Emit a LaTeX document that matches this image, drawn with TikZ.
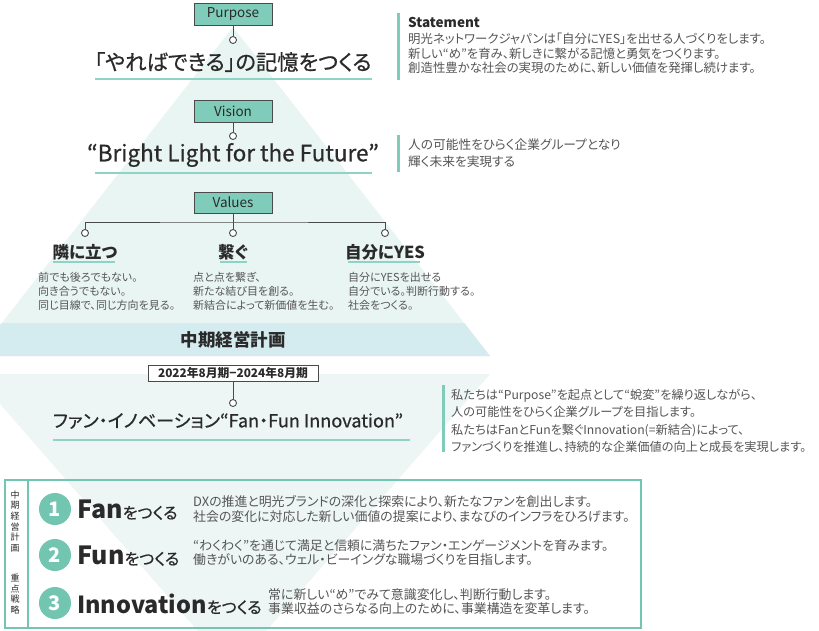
\documentclass[tikz,border=0pt]{standalone}
\usepackage{fontspec}
\setmainfont{Noto Sans CJK JP}[RawFeature=+palt]
\newfontfamily\medfont{Noto Sans CJK JP}[RawFeature=+palt, FakeBold=0.6]
\usetikzlibrary{calc}
\definecolor{teal1}{HTML}{80CCBA}
\definecolor{ulc}{HTML}{8ED3C3}
\definecolor{mint}{HTML}{E9F5F2}
\definecolor{bandc}{HTML}{D4EBEF}
\definecolor{mint2}{HTML}{EDF6F4}
\definecolor{txt}{HTML}{555555}
\definecolor{dark}{HTML}{2A2A2A}
\definecolor{bord}{HTML}{4A4A4A}
\definecolor{numc}{HTML}{72C6B1}
\tikzset{
  lbl/.style={draw=bord, line width=1pt, fill=teal1, minimum width=78, minimum height=22, inner sep=0, font=\fontsize{13.5}{13.5}\selectfont, text=dark},
  datebox/.style={draw=bord, line width=0.9pt, fill=white, minimum width=170, minimum height=16, inner sep=0, font=\bfseries\fontsize{11.8}{11.8}\selectfont, text=dark},
  dot/.style={circle, draw=bord, fill=white, line width=0.9pt, minimum size=7, inner sep=0},
  conn/.style={draw=bord, line width=0.9pt},
  ul/.style={draw=ulc, line width=2pt},
  bar/.style={draw=teal1, line width=3pt},
  title/.style={text=dark, inner sep=0},
  desc/.style={anchor=west, align=left, text=txt, inner sep=0},
  vlbl/.style={text=dark, inner sep=0, font=\bfseries\fontsize{16.5}{16.5}\selectfont},
  num/.style={circle, fill=numc, minimum size=32, inner sep=0, text=white, font=\bfseries\fontsize{20}{20}\selectfont},
  vtxt/.style={align=center, text=dark, inner sep=0, font=\fontsize{9}{10.7}\selectfont},
}
\begin{document}
\begin{tikzpicture}[x=1pt,y=-1pt]
\useasboundingbox (0,0) rectangle (819,630);
\fill[white] (0,0) rectangle (819,630);
% upper pyramid
\fill[mint] (233,27) -- (490,356) -- (-24,356) -- cycle;
\fill[bandc] (1.8,323) -- (464.2,323) -- (490,356) -- (-24,356) -- cycle;
% lower inverted triangle
\fill[mint2] (-26,374) -- (490,374) -- (232,670) -- cycle;

% Purpose
\node[lbl] (purpose) at (233,14) {Purpose};
\node[dot] (pdot) at (233,40) {};
\draw[conn] (purpose.south) -- (pdot.north);
\node[title, font=\medfont\fontsize{21.3}{21.3}\selectfont] (ptitle) at (233,62) {「やればできる」の記憶をつくる};
\coordinate (pu1) at (95,79); \coordinate (pu2) at (372,79);
\draw[ul] (pu1) -- (pu2);

% Statement
\coordinate (sb1) at (398,13); \coordinate (sb2) at (398,80);
\draw[bar] (sb1) -- (sb2);
\node[anchor=west, inner sep=0, text=dark, font=\bfseries\fontsize{13.5}{13.5}\selectfont] (stmt) at (408,22) {Statement};
\node[desc, font=\fontsize{12.4}{14.5}\selectfont] (stmtd) at (408,53.5) {明光ネットワークジャパンは「自分にYES」を出せる人づくりをします。\\新しい“め”を育み、新しきに繋がる記憶と勇気をつくります。\\創造性豊かな社会の実現のために、新しい価値を発揮し続けます。};

% Vision
\node[lbl] (vision) at (233,111) {Vision};
\node[dot] (vdot) at (233,136) {};
\draw[conn] (vision.south) -- (vdot.north);
\node[title, font=\medfont\fontsize{22.5}{22.5}\selectfont] (vtitle) at (233,155) {“Bright Light for the Future”};
\coordinate (vu1) at (95,173); \coordinate (vu2) at (372,173);
\draw[ul] (vu1) -- (vu2);
\coordinate (vb1) at (398,135); \coordinate (vb2) at (398,172);
\draw[bar] (vb1) -- (vb2);
\node[desc, font=\fontsize{12.7}{16.7}\selectfont] (visd) at (408,153.5) {人の可能性をひらく企業グループとなり\\輝く未来を実現する};

% Values
\node[lbl, minimum height=21] (values) at (233,202.5) {Values};
\node[dot] (d1) at (85,233) {};
\node[dot] (d2) at (233,233) {};
\node[dot] (d3) at (385,233) {};
\draw[conn] (values.south) -- (d2.north);
\draw[conn] (d1.north) |- (values.south |- 0,222) -| (d3.north);
\node[vlbl] (v1) at (85,252) {隣に立つ};
\node[vlbl] (v2) at (233,252) {繋ぐ};
\node[vlbl] (v3) at (385,252) {自分にYES};
\coordinate (a1) at (53,262); \coordinate (a2) at (115,262);
\coordinate (b1) at (220,262); \coordinate (b2) at (247,262);
\coordinate (c1) at (348,262); \coordinate (c2) at (420,262);
\draw[ul] (a1) -- (a2); \draw[ul] (b1) -- (b2); \draw[ul] (c1) -- (c2);
\node[desc, font=\fontsize{11}{14}\selectfont] (v1d) at (38,291) {前でも後ろでもない。\\向き合うでもない。\\同じ目線で、同じ方向を見る。};
\node[desc, font=\fontsize{11}{14}\selectfont] (v2d) at (193,291) {点と点を繋ぎ、\\新たな結び目を創る。\\新結合によって新価値を生む。};
\node[desc, font=\fontsize{11}{14}\selectfont] (v3d) at (348,291) {自分にYESを出せる\\自分でいる。判断行動する。\\社会をつくる。};

% band
\node[title, font=\bfseries\fontsize{17.5}{17.5}\selectfont] (band) at (233,340) {中期経営計画};

% mid-term plan
\node[datebox] (date) at (233,373.5) {2022年8月期−2024年8月期};
\node[dot] (fdot) at (233,403) {};
\draw[conn] (date.south) -- (fdot.north);
\node[title, font=\medfont\fontsize{18.1}{18.1}\selectfont] (ftitle) at (228,421) {ファン・イノベーション“Fan・Fun Innovation”};
\coordinate (fu1) at (53,440); \coordinate (fu2) at (410,440);
\draw[ul] (fu1) -- (fu2);
\coordinate (fb1) at (443,385); \coordinate (fb2) at (443,452);
\draw[bar] (fb1) -- (fb2);
\node[desc, font=\fontsize{12.2}{17.3}\selectfont] (fund) at (451,421) {私たちは“Purpose”を起点として“蛻変”を繰り返しながら、\\人の可能性をひらく企業グループを目指します。\\私たちはFanとFunを繋ぐInnovation(=新結合)によって、\\ファンづくりを推進し、持続的な企業価値の向上と成長を実現します。};

% strategy box
\node[draw=numc, line width=2pt, fill=none, minimum width=636, minimum height=148, inner sep=0] (sbox) at (323,554) {};
\coordinate (il1) at (28,480); \coordinate (il2) at (28,628);
\draw[draw=numc, line width=1.5pt] (il1) -- (il2);
\node[vtxt] (vt1) at (15,521.5) {中\\期\\経\\営\\計\\画};
\node[vtxt] (vt2) at (15,594) {重\\点\\戦\\略};

\node[num] (n1) at (55,509) {1};
\node[num] (n2) at (55,555) {2};
\node[num] (n3) at (55,603) {3};
\node[anchor=west, inner sep=0, text=dark] (s1) at (77,510) {{\bfseries\fontsize{25}{25}\selectfont Fan}{\medfont\fontsize{16}{16}\selectfont をつくる}};
\node[anchor=west, inner sep=0, text=dark] (s2) at (77,556) {{\bfseries\fontsize{25}{25}\selectfont Fun}{\medfont\fontsize{16}{16}\selectfont をつくる}};
\node[anchor=west, inner sep=0, text=dark] (s3) at (77,604) {{\bfseries\fontsize{23.5}{23.5}\selectfont Innovation}{\medfont\fontsize{16}{16}\selectfont をつくる}};
\node[desc, font=\fontsize{12.9}{15}\selectfont] (s1d) at (193,509.5) {DXの推進と明光ブランドの深化と探索により、新たなファンを創出します。\\社会の変化に対応した新しい価値の提案により、まなびのインフラをひろげます。};
\node[desc, font=\fontsize{12.9}{14}\selectfont] (s2d) at (193,553) {“わくわく”を通じて満足と信頼に満ちたファン・エンゲージメントを育みます。\\働きがいのある、ウェル・ビーイングな職場づくりを目指します。};
\node[desc, font=\fontsize{12.9}{13.5}\selectfont] (s3d) at (268,601.5) {常に新しい“め”でみて意識変化し、判断行動します。\\事業収益のさらなる向上のために、事業構造を変革します。};
\end{tikzpicture}
\end{document}
